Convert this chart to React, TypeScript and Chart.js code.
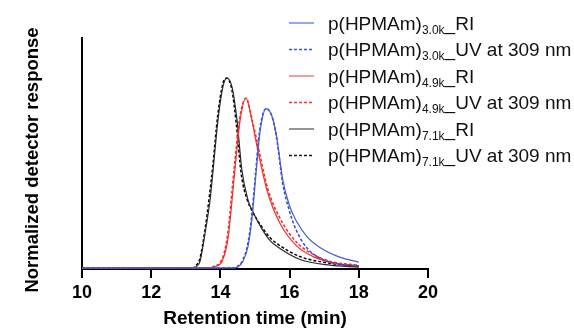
import React, { useEffect, useRef } from "react";
import { Chart, registerables } from "chart.js";

Chart.register(...registerables);

// ---- data ----
const xTickValues = [10, 12, 14, 16, 18, 20];

const blueRiTime = [10, 14.4, 14.51, 14.65, 14.8, 14.91, 15.03, 15.14, 15.32, 15.49, 15.62, 15.8, 16.0, 16.2, 16.5, 16.9, 17.45, 18];
const blueRiVal = [0.005, 0.006, 0.012, 0.04, 0.12, 0.26, 0.5, 0.71, 0.84, 0.8, 0.7, 0.47, 0.33, 0.25, 0.17, 0.11, 0.062, 0.036];

const blueUvTime = [10, 14.4, 14.5, 14.64, 14.79, 14.9, 15.02, 15.13, 15.32, 15.49, 15.62, 15.8, 16.0, 16.2, 16.5, 16.9, 17.45, 18];
const blueUvVal = [0.005, 0.006, 0.014, 0.045, 0.13, 0.27, 0.51, 0.72, 0.84, 0.8, 0.69, 0.45, 0.3, 0.2, 0.11, 0.055, 0.025, 0.014];

const redRiTime = [10, 13.7, 13.84, 14.05, 14.22, 14.42, 14.57, 14.74, 14.91, 15.06, 15.35, 15.72, 16.21, 16.68, 17.17, 18];
const redRiVal = [0.005, 0.006, 0.012, 0.04, 0.16, 0.52, 0.78, 0.895, 0.78, 0.64, 0.41, 0.24, 0.12, 0.065, 0.035, 0.016];

const redUvTime = [10, 13.7, 13.82, 14.03, 14.2, 14.4, 14.56, 14.74, 14.92, 15.08, 15.37, 15.74, 16.23, 16.7, 17.17, 18];
const redUvVal = [0.005, 0.006, 0.015, 0.045, 0.17, 0.53, 0.79, 0.895, 0.78, 0.65, 0.42, 0.26, 0.135, 0.075, 0.04, 0.02];

const blackRiTime = [10, 13.2, 13.32, 13.41, 13.55, 13.7, 13.79, 13.93, 14.08, 14.19, 14.34, 14.48, 14.62, 14.8, 14.91, 15.2, 15.43, 15.66, 16.3, 17.17, 18];
const blackRiVal = [0.005, 0.006, 0.015, 0.04, 0.18, 0.36, 0.52, 0.78, 0.96, 1.0, 0.95, 0.78, 0.52, 0.36, 0.31, 0.21, 0.15, 0.115, 0.05, 0.02, 0.01];

const blackUvTime = [10, 13.2, 13.3, 13.4, 13.55, 13.68, 13.78, 13.92, 14.07, 14.18, 14.33, 14.46, 14.6, 14.78, 14.9, 15.2, 15.43, 15.66, 16.3, 17.17, 18];
const blackUvVal = [0.005, 0.006, 0.02, 0.05, 0.2, 0.38, 0.54, 0.8, 0.97, 1.0, 0.94, 0.76, 0.5, 0.36, 0.31, 0.22, 0.165, 0.13, 0.065, 0.03, 0.015];

const seriesSubs = ["3.0k", "3.0k", "4.9k", "4.9k", "7.1k", "7.1k"];
const seriesSuffix = ["_RI", "_UV at 309 nm", "_RI", "_UV at 309 nm", "_RI", "_UV at 309 nm"];
const seriesColors = ["#4a5ccc", "#2a48d0", "#f03030", "#ff2020", "#2a2a2a", "#000000"];
const legendColors = ["#7a88d8", "#3a52d0", "#f07878", "#ff3030", "#707070", "#111111"];
const seriesDashed = [false, true, false, true, false, true];
const yTitleText = "Normalized detector response";

const pairs = (t: number[], v: number[]) => t.map((x, i) => ({ x, y: v[i] }));

const seriesData = [
  pairs(blueRiTime, blueRiVal),
  pairs(blueUvTime, blueUvVal),
  pairs(redRiTime, redRiVal),
  pairs(redUvTime, redUvVal),
  pairs(blackRiTime, blackRiVal),
  pairs(blackUvTime, blackUvVal),
];

const FONT = '"Liberation Sans", Arial, sans-serif';

const legendPlugin = {
  id: "subLegend",
  afterDraw(chart: any) {
    const ctx = chart.ctx as CanvasRenderingContext2D;
    ctx.save();
    for (let i = 0; i < 6; i++) {
      const y = 23 + i * 26.5;
      ctx.beginPath();
      ctx.strokeStyle = legendColors[i];
      ctx.lineWidth = 1.5;
      ctx.setLineDash(seriesDashed[i] ? [3, 2] : []);
      ctx.moveTo(289, y);
      ctx.lineTo(314, y);
      ctx.stroke();
      ctx.setLineDash([]);
      ctx.fillStyle = "#111";
      ctx.textBaseline = "alphabetic";
      ctx.textAlign = "left";
      let x = 328;
      ctx.font = `19px ${FONT}`;
      ctx.fillText("p(HPMAm)", x, y + 6.8);
      x += ctx.measureText("p(HPMAm)").width;
      ctx.font = `12px ${FONT}`;
      ctx.fillText(seriesSubs[i], x, y + 10.8);
      x += ctx.measureText(seriesSubs[i]).width;
      ctx.font = `19px ${FONT}`;
      ctx.fillText(seriesSuffix[i], x, y + 6.8);
    }
    // y-axis title
    ctx.translate(33, 160);
    ctx.rotate(-Math.PI / 2);
    ctx.font = `bold 18.5px ${FONT}`;
    ctx.textAlign = "center";
    ctx.textBaseline = "middle";
    ctx.fillStyle = "#000";
    ctx.fillText(yTitleText, 0, 0);
    ctx.restore();
  },
};

export default function App() {
  const ref = useRef<HTMLCanvasElement | null>(null);
  useEffect(() => {
    if (!ref.current) return;
    const chart = new Chart(ref.current, {
      type: "line",
      data: {
        datasets: seriesData.map((d, i) => ({
          label: "p(HPMAm)" + seriesSubs[i] + seriesSuffix[i],
          data: d,
          borderColor: seriesColors[i],
          borderWidth: seriesDashed[i] ? 1.5 : 1.2,
          borderDash: seriesDashed[i] ? [3, 2] : [],
          pointRadius: 0,
          fill: false,
          cubicInterpolationMode: "monotone" as const,
        })),
      },
      options: {
        animation: false,
        responsive: false,
        layout: { padding: { left: 0, top: 38, right: 146, bottom: 0 } },
        plugins: { legend: { display: false }, tooltip: { enabled: false } },
        scales: {
          x: {
            type: "linear",
            min: 10,
            max: 20,
            afterBuildTicks: (s: any) => {
              s.ticks = xTickValues.map((v) => ({ value: v }));
            },
            afterFit: (s: any) => {
              s.height = 61;
            },
            ticks: {
              color: "#000",
              font: { family: FONT, size: 18, weight: "bold" },
              padding: 4,
              maxRotation: 0,
            },
            grid: {
              display: true,
              drawOnChartArea: false,
              drawTicks: true,
              tickLength: 9,
              color: "#000",
              lineWidth: 2,
            },
            border: { display: true, color: "#000", width: 2 },
            title: {
              display: true,
              text: "Retention time (min)",
              color: "#000",
              font: { family: FONT, size: 19, weight: "bold" },
              padding: { top: 0, bottom: 0 },
            },
          },
          y: {
            type: "linear",
            min: 0,
            max: 1.21,
            afterFit: (s: any) => {
              s.width = 82;
            },
            ticks: { display: false },
            grid: { display: false, drawTicks: false },
            border: { display: true, color: "#000", width: 2 },
            title: { display: false },
          },
        },
      },
      plugins: [legendPlugin],
    });
    return () => chart.destroy();
  }, []);
  return (
    <div style={{ position: "absolute", left: 0, top: 0, width: 574, height: 330, background: "#fff" }}>
      <canvas ref={ref} width={574} height={330} style={{ width: 574, height: 330, display: "block" }} />
    </div>
  );
}
